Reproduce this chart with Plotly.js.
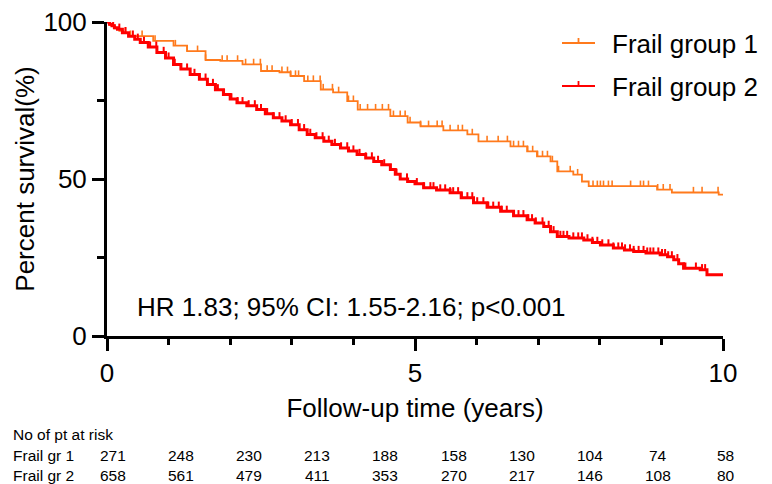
<!DOCTYPE html>
<html>
<head>
<meta charset="utf-8">
<script src="https://cdn.plot.ly/plotly-3.0.1.min.js"></script>
<style>
  html, body { margin: 0; padding: 0; background: #ffffff; }
  #chart { width: 772px; height: 484px; }
</style>
</head>
<body>
<div id="chart"></div>
<script>
// ---------- DATA ----------
const seriesNames = ["Frail group 1", "Frail group 2"];
const riskRowLabels = ["Frail gr 1", "Frail gr 2"];
const riskTitle = "No of pt at risk";
const hrText = "HR 1.83; 95% CI: 1.55-2.16; p<0.001";

// Frail group 1: step points (time in years, percent survival)
const g1Time = [0, 0.05, 0.12, 0.20, 0.26, 0.37, 0.75, 1.08, 1.30, 1.60, 1.84, 2.20, 2.50, 2.80, 2.98, 3.20, 3.47, 3.67, 3.90, 4.07, 4.60, 4.88, 5.09, 5.46, 5.85, 6.03, 6.55, 6.82, 6.98, 7.20, 7.31, 7.57, 7.71, 7.82, 8.93, 9.17, 9.93, 10.0];
const g1Surv = [100, 99.0, 98.0, 97.2, 96.5, 95.5, 94.0, 92.5, 90.7, 87.9, 87.6, 86.5, 84.4, 84.0, 82.8, 81.2, 78.5, 77.6, 74.8, 72.1, 70.0, 68.0, 66.8, 65.5, 64.2, 62.0, 60.4, 58.8, 57.2, 55.6, 52.4, 51.4, 49.2, 47.7, 46.6, 45.7, 45.0, 45.0];
// Frail group 1: censoring times (years)
const g1Censor = [0.30, 0.38, 0.57, 0.78, 1.11, 1.30, 1.47, 1.60, 1.87, 1.95, 2.12, 2.25, 2.38, 2.49, 2.60, 2.68, 2.84, 2.93, 2.98, 3.06, 3.11, 3.26, 3.35, 3.46, 3.51, 3.66, 3.76, 3.92, 4.00, 4.11, 4.23, 4.36, 4.47, 4.57, 4.65, 4.76, 4.84, 4.92, 5.09, 5.22, 5.36, 5.44, 5.57, 5.70, 5.77, 5.93, 6.17, 6.35, 6.50, 6.60, 6.68, 6.76, 6.83, 6.91, 6.99, 7.07, 7.15, 7.23, 7.33, 7.52, 7.64, 7.89, 7.96, 8.01, 8.06, 8.14, 8.20, 8.50, 8.66, 8.71, 8.79, 8.94, 9.03, 9.14, 9.52, 9.66, 9.92];

// Frail group 2: step points
const g2Time = [0, 0.04, 0.08, 0.12, 0.17, 0.25, 0.35, 0.45, 0.54, 0.67, 0.81, 0.95, 1.08, 1.20, 1.35, 1.50, 1.63, 1.76, 1.89, 2.00, 2.11, 2.27, 2.43, 2.57, 2.70, 2.84, 2.98, 3.12, 3.25, 3.38, 3.52, 3.65, 3.79, 3.92, 4.06, 4.20, 4.33, 4.46, 4.60, 4.68, 4.76, 4.88, 5.00, 5.14, 5.35, 5.57, 5.75, 5.95, 6.17, 6.39, 6.60, 6.82, 6.95, 7.09, 7.20, 7.31, 7.50, 7.74, 7.88, 8.01, 8.22, 8.40, 8.55, 8.75, 8.98, 9.10, 9.20, 9.28, 9.36, 9.63, 9.74, 10.0];
const g2Surv = [100, 99.3, 98.8, 98.2, 97.7, 96.6, 95.5, 94.5, 93.5, 92.0, 90.3, 88.5, 86.5, 85.0, 83.3, 81.8, 80.1, 78.4, 76.9, 75.5, 74.3, 73.3, 72.1, 70.8, 69.5, 68.5, 67.3, 65.7, 64.2, 63.1, 62.0, 61.0, 59.9, 58.9, 57.8, 56.7, 55.6, 54.5, 53.0, 51.5, 50.0, 49.2, 48.5, 47.2, 46.5, 45.6, 44.0, 42.4, 41.0, 39.7, 38.3, 37.0, 36.0, 34.9, 33.2, 31.7, 31.2, 30.6, 29.8, 29.0, 28.0, 27.4, 26.9, 26.4, 25.9, 25.2, 24.3, 23.0, 21.6, 21.1, 19.5, 19.5];
// Frail group 2: censoring times (years)
const g2Censor = [0.10, 0.20, 0.30, 0.42, 0.50, 0.60, 0.70, 0.80, 0.92, 1.00, 1.10, 1.20, 1.30, 1.42, 1.50, 1.60, 1.72, 1.80, 1.90, 2.02, 2.12, 2.20, 2.30, 2.40, 2.50, 2.60, 2.70, 2.80, 2.90, 3.00, 3.10, 3.20, 3.30, 3.40, 3.50, 3.60, 3.70, 3.80, 3.90, 4.00, 4.10, 4.20, 4.30, 4.40, 4.50, 4.60, 4.70, 4.87, 5.03, 5.14, 5.25, 5.30, 5.41, 5.49, 5.57, 5.62, 5.70, 5.76, 5.85, 5.93, 6.01, 6.11, 6.19, 6.27, 6.36, 6.41, 6.49, 6.60, 6.68, 6.76, 6.84, 6.90, 6.96, 7.07, 7.17, 7.25, 7.36, 7.41, 7.47, 7.57, 7.65, 7.71, 7.80, 7.88, 7.96, 8.04, 8.14, 8.22, 8.30, 8.36, 8.41, 8.49, 8.55, 8.63, 8.71, 8.77, 8.82, 8.87, 8.95, 9.01, 9.06, 9.11, 9.17, 9.26, 9.36, 9.39, 9.56, 9.66, 9.71];

// Numbers at risk
const riskG1 = [271, 248, 230, 213, 188, 158, 130, 104, 74, 58];
const riskG2 = [658, 561, 479, 411, 353, 270, 217, 146, 108, 80];

// ---------- STYLE / LAYOUT ----------
const colors = ["#FF7A1C", "#FF0000"];
const FONT = "Liberation Sans, Arial, Helvetica, sans-serif";
const W = 772, H = 484;
const M = { l: 107, r: 49, t: 22, b: 148 };
const pw = W - M.l - M.r, ph = H - M.t - M.b;
const px2x = px => (px - M.l) / pw;      // pixel -> paper x
const py2y = py => 1 - (py - M.t) / ph;  // pixel -> paper y

function survAt(times, surv, t) {
  let s = surv[0];
  for (let i = 0; i < times.length; i++) if (times[i] <= t) s = surv[i];
  return s;
}

function curve(times, surv, color, width) {
  return { x: times, y: surv, type: "scatter", mode: "lines",
    line: { shape: "hv", color: color, width: width }, showlegend: false, hoverinfo: "skip" };
}
function censor(ctimes, times, surv, color, th) {
  return { x: ctimes, y: ctimes.map(t => survAt(times, surv, t)), type: "scatter", mode: "markers",
    marker: { size: 1, opacity: 0, color: color },
    error_y: { type: "constant", symmetric: false, value: 1.8, valueminus: 0, width: 0, thickness: th, color: color },
    showlegend: false, hoverinfo: "skip" };
}

const traces = [
  curve(g1Time, g1Surv, colors[0], 1.8),
  censor(g1Censor, g1Time, g1Surv, colors[0], 1.6),
  curve(g2Time, g2Surv, colors[1], 3),
  censor(g2Censor, g2Time, g2Surv, colors[1], 2)
];

const annotations = [];
const shapes = [];
const bigFont = { family: FONT, size: 26, color: "#000" };

// legend (drawn manually: line with an upward censor tick)
const legendRows = [43, 86];
seriesNames.forEach((name, i) => {
  const yy = legendRows[i];
  shapes.push({ type: "line", xref: "paper", yref: "paper", x0: px2x(562), x1: px2x(595), y0: py2y(yy), y1: py2y(yy),
    line: { color: colors[i], width: i === 0 ? 1.8 : 2.2 } });
  shapes.push({ type: "line", xref: "paper", yref: "paper", x0: px2x(578.5), x1: px2x(578.5), y0: py2y(yy), y1: py2y(yy - 5),
    line: { color: colors[i], width: 1.8 } });
  annotations.push({ text: name, xref: "paper", yref: "paper", x: px2x(610), y: py2y(yy + 1),
    xanchor: "left", yanchor: "middle", showarrow: false, font: bigFont });
});

// HR text
annotations.push({ text: hrText, xref: "paper", yref: "paper", x: px2x(135), y: py2y(307),
  xanchor: "left", yanchor: "middle", showarrow: false, font: bigFont });

// risk table
const riskFont = { family: FONT, size: 15.5, color: "#000" };
annotations.push({ text: riskTitle, xref: "paper", yref: "paper", x: px2x(11), y: py2y(434),
  xanchor: "left", yanchor: "middle", showarrow: false, font: riskFont });
const riskRows = [[riskG1, 455], [riskG2, 476]];
riskRows.forEach(([vals, yy], r) => {
  annotations.push({ text: riskRowLabels[r], xref: "paper", yref: "paper", x: px2x(11), y: py2y(yy),
    xanchor: "left", yanchor: "middle", showarrow: false, font: riskFont });
  vals.forEach((v, i) => {
    annotations.push({ text: String(v), xref: "paper", yref: "paper", x: px2x(113 + 68.1 * i), y: py2y(yy),
      xanchor: "center", yanchor: "middle", showarrow: false, font: riskFont });
  });
});

const layout = {
  width: W, height: H,
  margin: M,
  paper_bgcolor: "#fff", plot_bgcolor: "#fff",
  showlegend: false,
  xaxis: {
    range: [0, 10], tickmode: "linear", tick0: 0, dtick: 5,
    ticks: "outside", ticklen: 12, tickwidth: 3, tickcolor: "#000",
    showline: true, linewidth: 3, linecolor: "#000", showgrid: false, zeroline: false,
    tickfont: bigFont,
    minor: { dtick: 1, tick0: 0, ticks: "outside", ticklen: 6, tickwidth: 3, tickcolor: "#000", showgrid: false },
    title: { text: "Follow-up time (years)", font: bigFont, standoff: 12 },
    automargin: false, fixedrange: true
  },
  yaxis: {
    range: [0, 100], tickmode: "linear", tick0: 0, dtick: 50,
    ticks: "outside", ticklen: 12, tickwidth: 3, tickcolor: "#000",
    showline: true, linewidth: 3, linecolor: "#000", showgrid: false, zeroline: false,
    tickfont: bigFont,
    minor: { dtick: 25, tick0: 0, ticks: "outside", ticklen: 7, tickwidth: 3, tickcolor: "#000", showgrid: false },
    title: { text: "Percent survival(%)", font: bigFont, standoff: 2 },
    automargin: false, fixedrange: true
  },
  annotations: annotations,
  shapes: shapes
};

Plotly.newPlot("chart", traces, layout, { staticPlot: true, displayModeBar: false });
</script>
</body>
</html>
